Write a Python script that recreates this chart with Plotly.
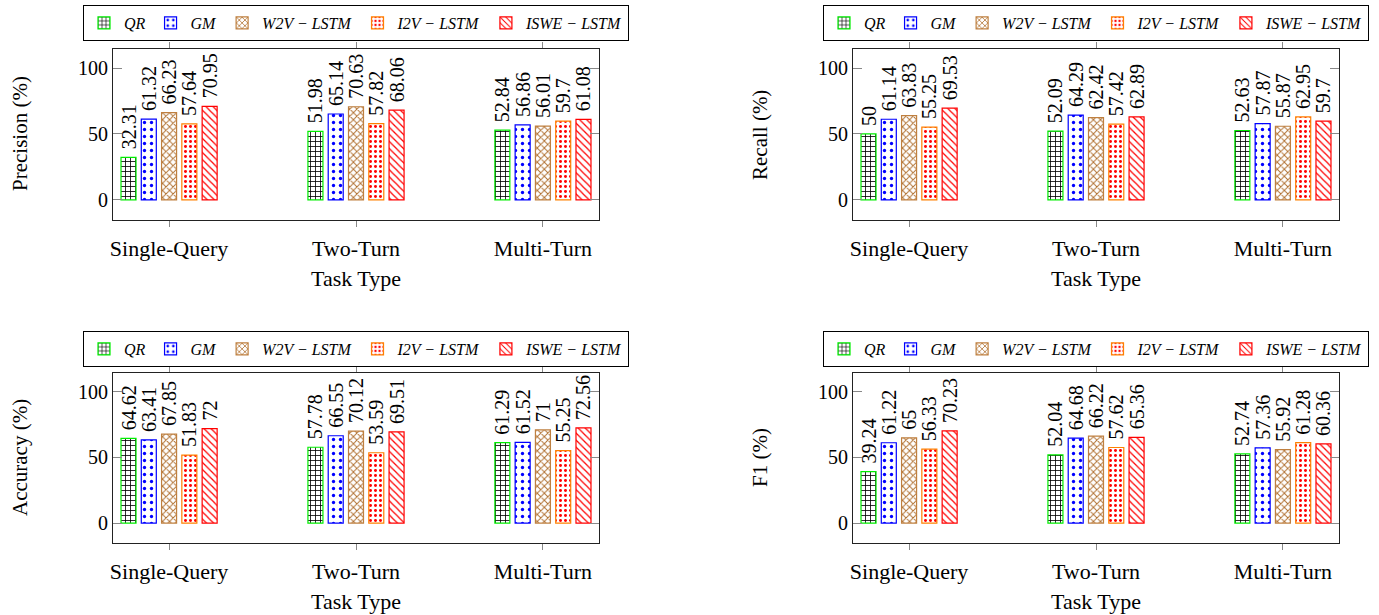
import plotly.graph_objects as go
from plotly.subplots import make_subplots

categories = ["Single-Query", "Two-Turn", "Multi-Turn"]
methods = ["QR", "GM", "W2V − LSTM", "I2V − LSTM", "ISWE − LSTM"]

# values per method, ordered by categories
precision = {
    "QR": [32.31, 51.98, 52.84],
    "GM": [61.32, 65.14, 56.86],
    "W2V − LSTM": [66.23, 70.63, 56.01],
    "I2V − LSTM": [57.64, 57.82, 59.7],
    "ISWE − LSTM": [70.95, 68.06, 61.08],
}
recall = {
    "QR": [50, 52.09, 52.63],
    "GM": [61.14, 64.29, 57.87],
    "W2V − LSTM": [63.83, 62.42, 55.87],
    "I2V − LSTM": [55.25, 57.42, 62.95],
    "ISWE − LSTM": [69.53, 62.89, 59.7],
}
accuracy = {
    "QR": [64.62, 57.78, 61.29],
    "GM": [63.41, 66.55, 61.52],
    "W2V − LSTM": [67.85, 70.12, 71],
    "I2V − LSTM": [51.83, 53.59, 55.25],
    "ISWE − LSTM": [72, 69.51, 72.56],
}
f1 = {
    "QR": [39.24, 52.04, 52.74],
    "GM": [61.22, 64.68, 57.36],
    "W2V − LSTM": [65, 66.22, 55.92],
    "I2V − LSTM": [56.33, 57.62, 61.28],
    "ISWE − LSTM": [70.23, 65.36, 60.36],
}
y_titles = ["Precision (%)", "Recall (%)", "Accuracy (%)", "F1 (%)"]
x_title = "Task Type"
y_ticks = [0, 50, 100]

styles = {
    "QR": dict(line="#00ee00", shape="+", fg="#000000", size=5, sol=0.3),
    "GM": dict(line="#0000ff", shape=".", fg="#0000ff", size=7, sol=0.18),
    "W2V − LSTM": dict(line="#bf8040", shape="x", fg="#b07030", size=5, sol=0.35),
    "I2V − LSTM": dict(line="#ff8000", shape=".", fg="#ff0000", size=5, sol=0.28),
    "ISWE − LSTM": dict(line="#ff0000", shape="\\", fg="#ff0000", size=5, sol=0.25),
}

W, H = 1379, 615
SERIF = "Liberation Serif"

fig = make_subplots(rows=2, cols=2)

datasets = [precision, recall, accuracy, f1]
positions = [(1, 1), (1, 2), (2, 1), (2, 2)]
legend_names = ["legend", "legend2", "legend3", "legend4"]

def fmt(v):
    return ("%g" % v)

for i, (data, (r, c)) in enumerate(zip(datasets, positions)):
    for m in methods:
        st = styles[m]
        vals = data[m]
        fig.add_trace(
            go.Bar(
                x=categories,
                y=vals,
                name="<i>" + m + "</i>",
                text=["\u00a0" + fmt(v) for v in vals],
                textposition="outside",
                textangle=-90,
                constraintext="none",
                cliponaxis=False,
                textfont=dict(family=SERIF, size=20, color="black"),
                marker=dict(
                    color="white",
                    line=dict(color=st["line"], width=1.2),
                    pattern=dict(shape=st["shape"], fgcolor=st["fg"], bgcolor="white",
                                 size=st["size"], solidity=st["sol"]),
                ),
                legend=legend_names[i],
                showlegend=True,
            ),
            row=r, col=c,
        )

xdom = [[113 / W, 599 / W], [853 / W, 1339 / W]]
ydom = [[1 - 220 / H, 1 - 49 / H], [1 - 543 / H, 1 - 373 / H]]

for (r, c) in positions:
    fig.update_xaxes(
        domain=xdom[c - 1], range=[-0.3, 2.3], showline=True, linecolor="#222",
        linewidth=1, mirror="ticks", ticks="outside", ticklen=6, tickcolor="#888",
        tickfont=dict(family=SERIF, size=22, color="black"), showgrid=False,
        automargin=False, ticklabelstandoff=3, row=r, col=c,
    )
    fig.update_yaxes(
        domain=ydom[r - 1], range=[-15.2, 114.4], showline=True, linecolor="#222",
        linewidth=1, mirror="ticks", ticks="inside", ticklen=9, tickcolor="#888",
        tickvals=y_ticks, tickfont=dict(family=SERIF, size=20, color="black"),
        showgrid=False, zeroline=False, automargin=False, row=r, col=c,
    )

legend_style = dict(
    orientation="h", bordercolor="black", borderwidth=1, bgcolor="white",
    font=dict(family=SERIF, size=16, color="black"), xanchor="left", yanchor="top",
    itemclick=False,
)
fig.update_layout(
    legend=dict(x=83 / W, y=1 - 5 / H, **legend_style),
    legend2=dict(x=823 / W, y=1 - 5 / H, **legend_style),
    legend3=dict(x=83 / W, y=1 - 331 / H, **legend_style),
    legend4=dict(x=823 / W, y=1 - 331 / H, **legend_style),
)

annotations = []
title_pos = [(20, 134), (760, 135), (20, 458), (760, 458)]
for t, (px, py) in zip(y_titles, title_pos):
    annotations.append(dict(
        text=t, x=px / W, y=1 - py / H, xref="paper", yref="paper", showarrow=False,
        textangle=-90, xanchor="center", yanchor="middle",
        font=dict(family=SERIF, size=21, color="black"),
    ))
for (px, py) in [(356, 278), (1096, 278), (356, 601), (1096, 601)]:
    annotations.append(dict(
        text=x_title, x=px / W, y=1 - py / H, xref="paper", yref="paper", showarrow=False,
        xanchor="center", yanchor="middle",
        font=dict(family=SERIF, size=22, color="black"),
    ))

fig.update_layout(
    template="none",
    width=W, height=H,
    margin=dict(l=0, r=0, t=0, b=0),
    barmode="group", bargap=0.4575, bargroupgap=0.26,
    paper_bgcolor="white", plot_bgcolor="white",
    annotations=annotations,
    font=dict(family=SERIF),
)

fig.write_html(
    "out.html",
    config={"displayModeBar": False},
    post_script="document.body.style.margin='0px';document.body.style.overflow='hidden';",
)
